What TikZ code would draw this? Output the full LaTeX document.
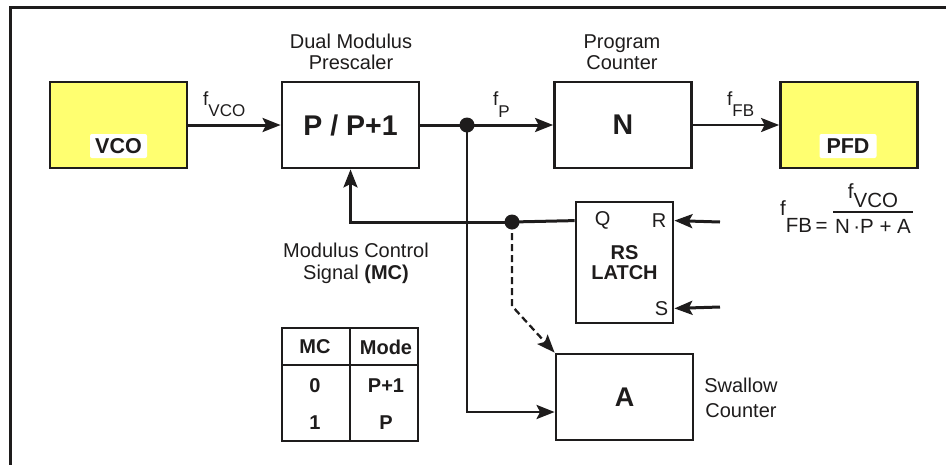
\documentclass[tikz,border=0pt]{standalone}
\usepackage{fontspec}
\setmainfont{Liberation Sans}
\usetikzlibrary{arrows.meta,calc}
\definecolor{vyellow}{RGB}{255,255,112}
\definecolor{ink}{RGB}{30,28,28}
\newcommand{\fs}[1]{\fontsize{#1}{#1}\selectfont}
\newcommand{\lowsub}[2]{\raisebox{-#1pt}{\fontsize{17}{17}\selectfont #2}}
\begin{document}
\begin{tikzpicture}[x=1pt,y=-1pt,
  blk/.style={draw=ink, line width=2.8pt, minimum width=137pt, minimum height=86pt, inner sep=0pt},
  ylw/.style={blk, fill=vyellow},
  tag/.style={fill=white, rounded corners=2pt, minimum width=57pt, minimum height=24pt, font=\bfseries\fs{21.5}, inner sep=0pt, text=ink},
  lbl/.style={font=\fontsize{20}{21}\selectfont, align=center, inner sep=0pt, text=ink},
  big/.style={font=\bfseries\fs{28.5}, text=ink},
  wire/.style={line width=3pt, draw=ink},
  thinw/.style={line width=2.3pt, draw=ink},
  tip/.style={-{Stealth[length=18pt,width=14pt,inset=3.5pt]}},
  jdot/.style={circle, fill=ink, minimum size=15pt, inner sep=0pt},
  cell/.style={font=\bfseries\fs{20}, inner sep=0pt, text=ink},
  sig/.style={font=\fs{19}, inner sep=0pt, anchor=base west, text=ink}]
\useasboundingbox (0,0) rectangle (946,464);
% frame
\draw[line width=3pt, draw=ink] (10,470) -- (10,7.5) -- (950,7.5);
% blocks
\node[ylw] (vco) at (118.5,125) {};
\node[tag] (vcolab) at (118.5,146) {VCO};
\node[blk, big] (pre) at (350.5,125) {P / P+1};
\node[blk, big] (ncnt) at (623,125) {N};
\node[ylw] (pfd) at (849,125) {};
\node[tag] (pfdlab) at (848,146) {PFD};
\node[blk, minimum width=97pt, minimum height=121pt, font=\bfseries\fontsize{20}{20}\selectfont, align=center, text=ink] (latch) at (624.5,262.5) {RS\\LATCH};
\node[blk, font=\bfseries\fs{27}, text=ink] (acnt) at (624.5,397) {A};
% labels
\node[lbl] (prelab) at (351,52) {Dual Modulus\\Prescaler};
\node[lbl] (ncntlab) at (622,52) {Program\\Counter};
\node[lbl, font=\fontsize{20}{22}\selectfont] (mclab) at (356,263) {Modulus Control\\Signal \textbf{(MC)}};
\node[lbl, font=\fontsize{20}{25}\selectfont] (swlab) at (741,398) {Swallow\\Counter};
\node[sig] (fvco) at (203,105) {f\lowsub{11}{VCO}};
\node[sig] (fp) at (493,105) {f\lowsub{12}{P}};
\node[sig] (ffbl) at (727,105) {f\lowsub{11}{FB}};
% latch pins
\coordinate (qpt) at ($(latch.north west)+(0,20)$);
\coordinate (rpt) at ($(latch.north east)+(0,20)$);
\coordinate (spt) at ($(latch.south east)+(0,-16)$);
\node[lbl, anchor=west] (qlab) at ($(qpt)+(20,0)$) {Q};
\node[lbl, anchor=east] (rlab) at ($(rpt)+(-8,0)$) {R};
\node[lbl, anchor=east] (slab) at ($(spt)+(-6,0)$) {S};
% junctions
\coordinate (j1) at (467,125);
\coordinate (j2) at (512,222);
\coordinate (dbend) at (512,306);
\coordinate (ain) at ($(acnt.west)+(0,15)$);
\coordinate (rin) at (720,222);
\coordinate (sin) at (720,307);
% connectors
\draw[wire, tip] (vco.east) -- (pre.west);
\draw[wire] (pre.east) -- (j1);
\draw[wire, tip] (j1) -- (ncnt.west);
\draw[thinw, tip] (ncnt.east) -- (pfd.west);
\draw[wire] (qpt) -- (j2);
\draw[wire, tip] (j2) -| (pre.south);
\draw[thinw] (j1) |- ($(ain)+(-10,0)$);
\draw[wire, tip] ($(ain)+(-11,0)$) -- (ain);
\draw[thinw, dash pattern=on 7pt off 4pt, tip] (j2) -- (dbend) -- (acnt.north west);
\draw[wire, tip] (rin) -- (rpt);
\draw[wire, tip] (sin) -- (spt);
\node[jdot] (d1) at (j1) {};
\node[jdot] (d2) at (j2) {};
% formula
\node[anchor=base west, font=\fs{20.5}, inner sep=0pt, text=ink] (ffb) at (780,232) {\raisebox{17pt}{f}FB\,=};
\node[anchor=base, font=\fs{20.5}, inner sep=0pt, text=ink] (fnum) at (873,198) {f\raisebox{-9pt}{VCO}};
\node[anchor=base, font=\fs{20.5}, inner sep=0pt, text=ink] (fden) at (873,233) {N\,·P + A};
\draw[line width=1.3pt, draw=ink] (833,212) -- (913,212);
% table
\draw[line width=2pt, draw=ink] (282,328) rectangle (418,441);
\draw[line width=2pt, draw=ink] (350,328) -- (350,441);
\draw[line width=2pt, draw=ink] (282,365) -- (418,365);
\node[cell] (h1) at (315,347) {MC};
\node[cell] (h2) at (386,347) {Mode};
\node[cell] (c11) at (315,386) {0};
\node[cell] (c12) at (386,386) {P+1};
\node[cell] (c21) at (315,423) {1};
\node[cell] (c22) at (386,423) {P};
\end{tikzpicture}
\end{document}
